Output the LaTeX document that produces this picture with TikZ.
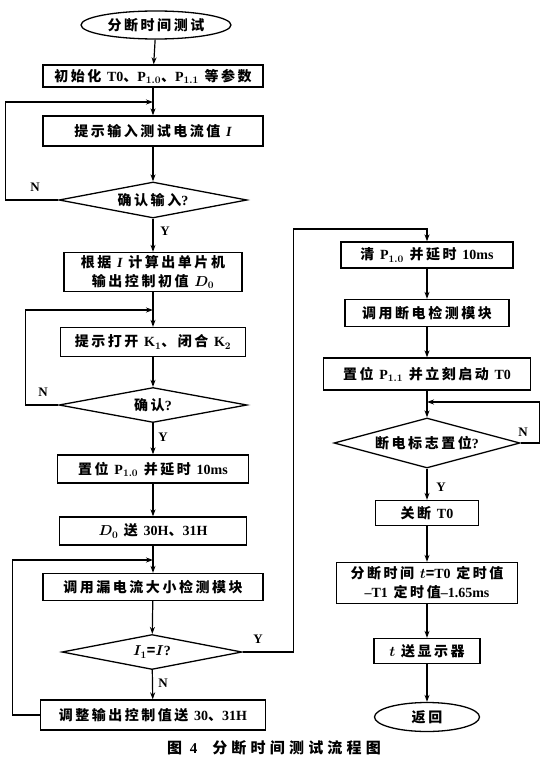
\documentclass[tikz,border=0pt]{standalone}
\usepackage{fontspec}
\setmainfont{Liberation Serif}
\newfontfamily\cjk[LetterSpace=18]{Noto Sans CJK SC}
\newfontfamily\cjkcap[LetterSpace=28]{Noto Sans CJK SC}
\usetikzlibrary{shapes.geometric,arrows.meta}
\newcommand{\la}[1]{{\rmfamily\bfseries #1}}

\begin{document}
\begin{tikzpicture}[x=1pt,y=-1pt,
    box/.style={draw, line width=1.3pt, inner sep=2pt, align=center,
      font=\cjk\bfseries\boldmath\fontsize{14}{19}\selectfont},
    term/.style={box, ellipse},
    dia/.style={box, diamond, inner sep=0pt, aspect=#1},
    line/.style={line width=1.2pt},
    arr/.style={line, -{Stealth[length=7pt,width=5pt]}},
    yn/.style={font=\rmfamily\bfseries\fontsize{13}{15}\selectfont}]
  \useasboundingbox (0,0) rectangle (545,773);

  % left column
  \node[term, minimum width=150, minimum height=28] (start) at (156,25) {分断时间测试};
  \node[box, minimum width=220, minimum height=22] (init) at (153,76)
    {初始化 \la{T0}、\la{P}$_{1.0}$、\la{P}$_{1.1}$ 等参数};
  \coordinate (j1) at (153,102);
  \node[box, minimum width=220, minimum height=30] (ask) at (153,131)
    {提示输入测试电流值 \la{\itshape I}};
  \node[dia=5.2, minimum width=188, minimum height=36] (ok1) at (153,200) {确认输入\la{?}};
  \node[box, minimum width=178, minimum height=39] (calc) at (153,272)
    {根据 \la{\itshape I} 计算出单片机\\输出控制初值 $D_0$};
  \coordinate (j2) at (153,310);
  \node[box, minimum width=185, minimum height=29] (open) at (153,342)
    {提示打开 \la{K}$_1$、闭合 \la{K}$_2$};
  \node[dia=5.4, minimum width=188, minimum height=35] (ok2) at (153,405) {确认\la{?}};
  \node[box, minimum width=191, minimum height=28] (set0) at (153,469)
    {置位 \la{P}$_{1.0}$ 并延时 \la{10ms}};
  \node[box, minimum width=187, minimum height=28] (load) at (153,531)
    {$D_0$ 送 \la{30H}、\la{31H}};
  \coordinate (j3) at (153,560);
  \node[box, minimum width=220, minimum height=27] (leak) at (153,587) {调用漏电流大小检测模块};
  \node[dia=5.1, minimum width=180, minimum height=35] (iok) at (152,652) {$I_1$=$I$\la{?}};
  \node[box, minimum width=225, minimum height=30] (adj) at (153,715)
    {调整输出控制值送 \la{30}、\la{31H}};

  % right column
  \coordinate (jr) at (427,229);
  \node[box, minimum width=172, minimum height=26] (clr) at (427,255)
    {清 \la{P}$_{1.0}$ 并延时 \la{10ms}};
  \node[box, minimum width=164, minimum height=27] (brk) at (427,313) {调用断电检测模块};
  \node[box, minimum width=207, minimum height=32] (set1) at (427,374)
    {置位 \la{P}$_{1.1}$ 并立刻启动 \la{T0}};
  \coordinate (j4) at (427,402);
  \node[dia=3.7, minimum width=186, minimum height=50] (ok3) at (427,443) {断电标志置位\la{?}};
  \node[box, minimum width=103, minimum height=25] (off) at (427,513) {关断 \la{T0}};
  \node[box, minimum width=181, minimum height=41] (tcalc) at (427,583)
    {分断时间 $t$=\la{T0} 定时值\\\la{--T1} 定时值\la{--1.65ms}};
  \node[box, minimum width=106, minimum height=25] (show) at (427,651) {$t$ 送显示器};
  \node[term, minimum width=105, minimum height=29] (finish) at (427,717) {返回};

  % flow
  \draw[arr] (start) -- (init);
  \draw[arr] (init) -- (ask);
  \draw[arr] (ask) -- (ok1);
  \draw[arr] (ok1.west) -- ++(-53,0) |- (j1);
  \draw[arr] (ok1) -- (calc);
  \draw[arr] (calc) -- (open);
  \draw[arr] (open) -- (ok2);
  \draw[arr] (ok2.west) -- ++(-33,0) |- (j2);
  \draw[arr] (ok2) -- (set0);
  \draw[arr] (set0) -- (load);
  \draw[arr] (load) -- (leak);
  \draw[arr] (leak) -- (iok);
  \draw[arr] (iok) -- (adj);
  \draw[arr] (adj.west) -- ++(-27,0) |- (j3);
  \draw[arr] (iok.east) -- ++(51,0) |- (jr) -- (clr);
  \draw[arr] (clr) -- (brk);
  \draw[arr] (brk) -- (set1);
  \draw[arr] (set1) -- (ok3);
  \draw[arr] (ok3.east) -- ++(19,0) |- (j4);
  \draw[arr] (ok3) -- (off);
  \draw[arr] (off) -- (tcalc);
  \draw[arr] (tcalc) -- (show);
  \draw[arr] (show) -- (finish);

  % branch labels
  \node[yn] (n1) at (35,187) {N};
  \node[yn] (y1) at (165,231) {Y};
  \node[yn] (n2) at (43,392) {N};
  \node[yn] (y2) at (163,437) {Y};
  \node[yn] (y3) at (258,639) {Y};
  \node[yn] (n3) at (163,683) {N};
  \node[yn] (n4) at (523,432) {N};
  \node[yn] (y4) at (441,487) {Y};

  \node[font=\cjkcap\bfseries\fontsize{15}{17}\selectfont] (cap) at (274,748)
    {图 \la{4}\quad 分断时间测试流程图};
\end{tikzpicture}
\end{document}
